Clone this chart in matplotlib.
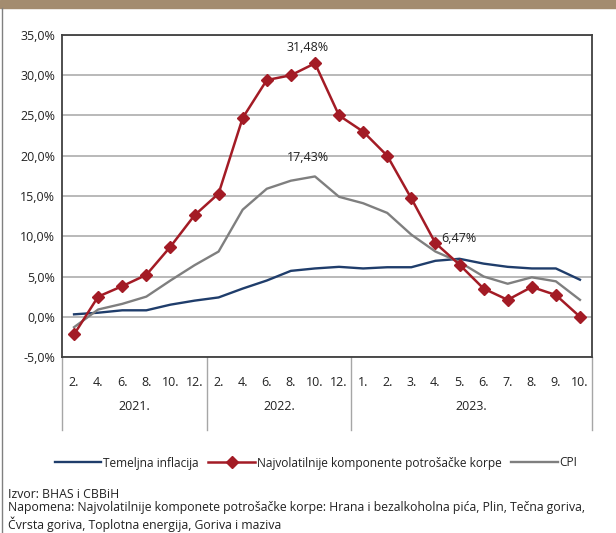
import matplotlib
matplotlib.use("Agg")
import matplotlib.pyplot as plt
from matplotlib.lines import Line2D
from matplotlib.transforms import blended_transform_factory

plt.rcParams['font.family'] = ['Open Sans', 'DejaVu Sans']

# ---- data ----
months = ['2.', '4.', '6.', '8.', '10.', '12.',
          '2.', '4.', '6.', '8.', '10.', '12.',
          '1.', '2.', '3.', '4.', '5.', '6.', '7.', '8.', '9.', '10.']
years = ['2021.', '2022.', '2023.']
year_counts = [6, 6, 10]

temeljna = [0.3, 0.5, 0.8, 0.8, 1.5, 2.0, 2.4, 3.5, 4.5, 5.7, 6.0, 6.2,
            6.0, 6.15, 6.15, 6.95, 7.2, 6.6, 6.2, 6.0, 6.0, 4.6]
volatilne = [-2.2, 2.5, 3.8, 5.2, 8.7, 12.6, 15.3, 24.7, 29.4, 30.0, 31.48, 25.0,
             23.0, 20.0, 14.7, 9.15, 6.47, 3.5, 2.1, 3.7, 2.7, 0.0]
cpi = [-1.3, 0.9, 1.6, 2.5, 4.5, 6.4, 8.1, 13.3, 15.9, 16.9, 17.43, 14.9,
       14.1, 12.9, 10.2, 8.1, 6.8, 5.0, 4.1, 4.9, 4.4, 2.1]

labels_pts = [(10, 31.48, volatilne), (10, 17.43, cpi), (16, 6.47, volatilne)]

yticks = [-5, 0, 5, 10, 15, 20, 25, 30, 35]

legend_names = ['Temeljna inflacija', 'Najvolatilnije komponente potrošačke korpe', 'CPI']
source_text = 'Izvor: BHAS i CBBiH'
note_text = ('Napomena: Najvolatilnije komponete potrošačke korpe: Hrana i bezalkoholna pića, Plin, Tečna goriva,\n'
             'Čvrsta goriva, Toplotna energija, Goriva i maziva')

# ---- styles ----
C_BLUE = '#1f3d6b'
C_RED = '#a31b25'
C_GRAY = '#7f7f7f'
C_TEXT = '#222222'
FS_TICK = 9
FS_LEG = 8.6
FS_NOTE = 8.8

W, H = 616, 533
fig = plt.figure(figsize=(W / 100, H / 100), dpi=100)
ax = fig.add_axes([62 / W, 1 - 357 / H, (592 - 62) / W, (357 - 35) / H])

x = list(range(len(months)))
ax.plot(x, temeljna, color=C_BLUE, lw=1.7, zorder=3)
ax.plot(x, cpi, color=C_GRAY, lw=1.7, zorder=3)
ax.plot(x, volatilne, color=C_RED, lw=1.8, marker='D', markersize=6,
        markeredgecolor=C_RED, markerfacecolor=C_RED, zorder=4)

ax.set_xlim(-0.5, len(months) - 0.5)
ax.set_ylim(-5, 35)
ax.set_yticks(yticks)
ax.set_yticklabels([f'{v:.1f}%'.replace('.', ',') for v in yticks], fontsize=FS_TICK, color=C_TEXT)
ax.tick_params(axis='y', length=0, pad=5)
ax.set_xticks([])
ax.grid(axis='y', color='#a6a6a6', lw=1.1, zorder=1)
ax.set_axisbelow(True)
for s in ax.spines.values():
    s.set_color('#404040')
    s.set_linewidth(1.3)

# data labels
offsets = {0: (-7, 2.0), 1: (-7, 2.4), 2: (-0.4, 3.2)}
for k, (i, v, ser) in enumerate(labels_pts):
    dx, dy = offsets[k]
    ax.text(i + dx / 24.1, v + dy, f'{v:.2f}%'.replace('.', ','), ha='center', va='center',
            fontsize=FS_TICK, color=C_TEXT)

# x axis category labels
tr = blended_transform_factory(ax.transData, ax.transAxes)
axh = 357 - 35
for i, m in enumerate(months):
    ax.text(i, -(383 - 357) / axh, m, transform=tr, ha='center', va='center',
            fontsize=FS_TICK, color=C_TEXT, clip_on=False)
start = 0
seps = [-0.5]
for yr, n in zip(years, year_counts):
    ax.text(start + (n - 1) / 2, -(407 - 357) / axh, yr, transform=tr, ha='center',
            va='center', fontsize=FS_TICK, color=C_TEXT, clip_on=False)
    start += n
    seps.append(start - 0.5)
for s in seps:
    ax.add_line(Line2D([s, s], [0, -(430 - 357) / axh], transform=tr, color='#a6a6a6',
                       lw=1.0, clip_on=False))

# legend
handles = [Line2D([], [], color=C_BLUE, lw=1.7),
           Line2D([], [], color=C_RED, lw=1.8, marker='D', markersize=6),
           Line2D([], [], color=C_GRAY, lw=1.7)]
fig.legend(handles, legend_names, loc='center', bbox_to_anchor=(316 / W, 1 - 463 / H),
           ncol=3, frameon=False, fontsize=FS_LEG, handlelength=3.9, handletextpad=0.15,
           columnspacing=0.8, labelcolor=C_TEXT)

# notes
fig.text(8 / W, 1 - 494 / H, source_text, fontsize=FS_NOTE, color=C_TEXT, va='center')
fig.text(8 / W, 1 - 517 / H, note_text, fontsize=FS_NOTE, color=C_TEXT, va='center',
         linespacing=1.2)

# header band and left border
fig.patches.append(plt.Rectangle((0, 1 - 8 / H), 1, 8 / H, transform=fig.transFigure,
                                 color='#a38c6f', zorder=0))
fig.add_artist(Line2D([2.5 / W, 2.5 / W], [0, 1 - 8 / H], transform=fig.transFigure,
                      color='#808080', lw=1.0))

fig.savefig('out.png', dpi=100)
